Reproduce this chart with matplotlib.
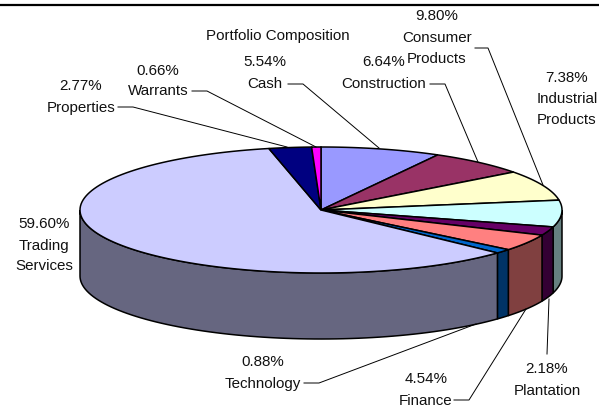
import numpy as np
import matplotlib.pyplot as plt
from matplotlib.patches import Polygon

plt.rcParams['font.family'] = ['Liberation Sans', 'DejaVu Sans']

# slices clockwise from 12 o'clock, sizes as drawn in the picture (percent)
names = ['Cash', 'Construction', 'Consumer Products', 'Industrial Products', 'Plantation',
         'Finance', 'Technology', 'Trading Services', 'Properties', 'Warrants']
shares = [8.05, 6.67, 7.78, 6.83, 2.2, 4.3, 1.1, 59.6, 2.85, 0.62]
top_colors = ['#9999FF', '#993366', '#FFFFCC', '#CCFFFF', '#660066',
              '#FF8080', '#0066CC', '#CCCCFF', '#000080', '#FF00FF']
side_colors = ['#4C4C80', '#4C1933', '#808066', '#668080', '#330033',
               '#804040', '#003366', '#666680', '#000040', '#800080']

title = 'Portfolio Composition'
labels = [
    (['5.54%', 'Cash'], 265, [62, 84]),
    (['6.64%', 'Construction'], 384, [62, 84]),
    (['9.80%', 'Consumer', 'Products'], 437, [16, 38, 59]),
    (['7.38%', 'Industrial', 'Products'], 567, [78, 99, 120]),
    (['2.18%', 'Plantation'], 547, [369, 391]),
    (['4.54%', 'Finance'], 426, [379, 401]),
    (['0.88%', 'Technology'], 263, [362, 384]),
    (['59.60%', 'Trading', 'Services'], 44, [224, 246, 266]),
    (['2.77%', 'Properties'], 81, [86, 108]),
    (['0.66%', 'Warrants'], 158, [71, 91]),
]
leaders = [
    [(288, 85), (303, 85), (379, 149)],
    [(430, 85), (445, 85), (478, 163)],
    [(475, 49), (488, 49), (543, 186)],
    [(547, 355), (549, 300)],
    [(454, 401), (469, 401), (526, 310)],
    [(304, 384), (319, 384), (476, 325)],
    [(118, 108), (133, 108), (287, 148)],
    [(192, 92), (207, 92), (316, 148)],
]

cx, cy = 321, 211
rx, ry = 241, 63
depth = 66

fig = plt.figure(figsize=(5.99, 4.14), dpi=100)
ax = fig.add_axes([0, 0, 1, 1])
ax.set_xlim(0, 599)
ax.set_ylim(414, 0)
ax.axis('off')

ax.plot([0, 599], [5.5, 5.5], color='black', lw=1.6, solid_capstyle='butt')

edges = 90 - np.cumsum([0] + shares) * 3.6

# side walls, only the part below the horizontal axis shows
for i in range(len(shares)):
    a0 = max(edges[i], -180)
    a1 = max(edges[i + 1], -180)
    a0 = min(a0, 0)
    a1 = min(a1, 0)
    if a0 <= a1:
        continue
    t = np.radians(np.linspace(a0, a1, 80))
    x = cx + rx * np.cos(t)
    y = cy - ry * np.sin(t)
    pts = np.r_[np.c_[x, y], np.c_[x[::-1], y[::-1] + depth]]
    ax.add_patch(Polygon(pts, fc=side_colors[i], ec='black', lw=1.1, zorder=2))

for i in range(len(shares)):
    t = np.radians(np.linspace(edges[i], edges[i + 1], 120))
    x = cx + rx * np.cos(t)
    y = cy - ry * np.sin(t)
    pts = np.r_[[[cx, cy]], np.c_[x, y]]
    ax.add_patch(Polygon(pts, fc=top_colors[i], ec='black', lw=1.1, zorder=3))

for line in leaders:
    xs, ys = zip(*line)
    ax.plot(xs, ys, color='black', lw=0.7, zorder=4)

ax.text(278, 36, title, fontsize=10.9, color='#111111', ha='center', va='center')
for lines, lx, lys in labels:
    for s, ly in zip(lines, lys):
        ax.text(lx, ly, s, fontsize=10.9, color='#111111', ha='center', va='center')

fig.savefig('out.png', dpi=100)
